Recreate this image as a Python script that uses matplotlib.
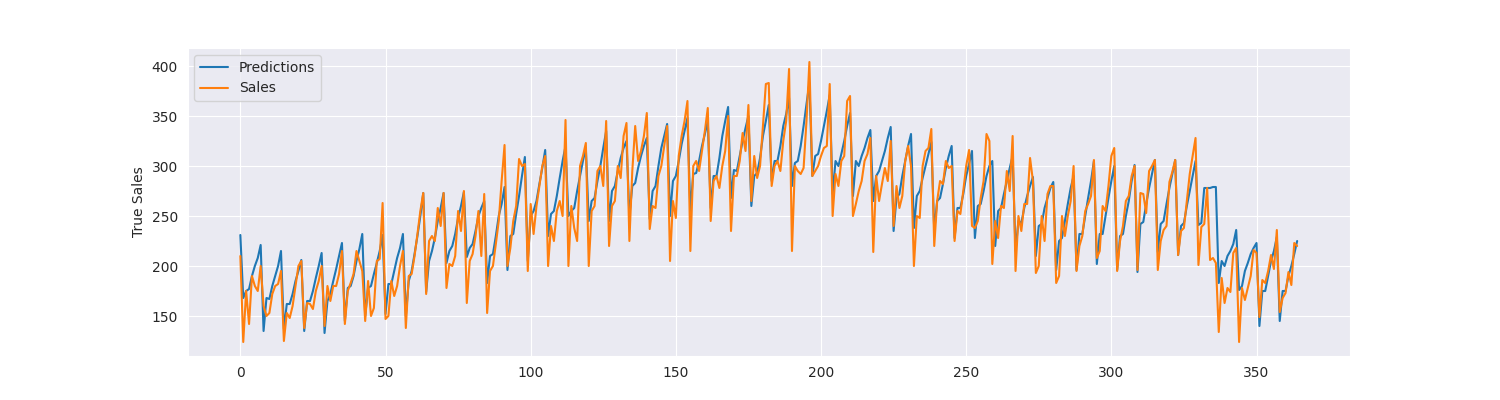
import matplotlib
matplotlib.use("Agg")
import matplotlib.pyplot as plt
import seaborn as sns

predictions = [
231,168,175,177,190,200,208,221,
135,168,167,180,190,200,215,
137,162,162,172,185,195,206,
135,165,165,175,188,200,213,
133,165,172,185,197,210,223,
145,178,180,190,205,217,232,
150,178,180,192,203,215,231,
152,182,182,195,208,218,232,
150,185,195,212,230,250,273,
174,205,215,228,245,258,273,
203,215,220,232,248,260,274,
209,218,222,235,250,258,265,
183,210,212,230,250,262,279,
196,230,232,252,270,290,309,
205,250,255,265,282,298,316,
230,252,255,270,288,305,320,
250,255,258,275,290,305,318,
245,265,268,285,300,318,335,
245,275,280,295,308,318,325,
250,280,283,298,310,320,328,
247,275,280,300,318,330,342,
250,285,290,305,322,335,348,
255,292,293,305,320,332,345,
258,290,290,308,330,345,359,
268,296,295,310,325,338,350,
260,290,293,308,330,345,361,
285,305,305,320,340,352,368,
280,303,305,320,340,362,383,
290,310,312,325,340,355,371,
272,305,300,312,325,340,353,
270,305,300,310,318,328,336,
265,290,295,305,315,328,339,
235,268,272,290,305,320,332,
238,270,275,288,300,312,324,
235,265,268,282,298,310,320,
228,258,258,272,290,302,315,
228,260,262,275,290,300,305,
220,255,258,272,285,298,310,
215,245,243,258,270,280,289,
210,240,242,258,268,278,284,
196,225,228,245,262,278,290,
196,232,232,250,268,285,305,
202,232,232,250,268,285,300,
196,230,232,250,265,285,301,
194,242,244,262,278,292,306,
214,242,245,262,278,292,306,
211,240,243,260,275,290,305,
241,243,278,278,278,279,279,
183,205,200,210,215,222,236,
176,180,195,203,212,218,223,
140,175,175,190,205,215,229,
145,175,175,190,200,212,225,
]

sales = [
210,124,175,142,190,180,175,200,
160,150,153,172,180,182,195,
125,153,148,160,180,200,205,
138,163,162,157,175,185,200,
140,180,165,180,180,192,215,
142,175,183,192,215,205,195,
145,185,150,158,205,207,263,
147,150,185,170,180,200,215,
138,190,192,210,232,255,273,
172,225,230,225,258,240,273,
178,202,200,210,255,235,275,
163,205,212,230,255,210,272,
153,195,200,222,245,285,321,
200,218,245,260,307,300,302,
195,262,232,260,280,300,310,
200,240,225,255,265,250,346,
200,260,238,225,300,310,323,
200,255,260,295,300,280,345,
220,260,265,300,288,330,343,
225,295,340,305,315,330,353,
237,260,258,290,300,320,340,
205,265,248,310,330,345,365,
215,300,305,295,315,335,358,
245,285,290,278,300,315,350,
235,290,290,305,333,315,361,
265,310,288,300,340,382,383,
280,300,305,295,325,345,397,
215,300,295,292,298,345,404,
290,295,300,310,318,320,382,
250,292,280,305,310,365,370,
250,262,275,285,305,312,328,
214,290,265,282,298,285,325,
240,280,258,270,305,320,300,
200,250,248,300,315,318,337,
220,265,285,282,305,298,300,
225,255,252,275,300,316,240,
238,245,268,285,332,325,202,
245,228,260,258,295,275,330,
195,250,235,262,262,308,285,
193,200,250,225,272,280,280,
183,190,250,230,250,265,300,
195,220,230,255,262,270,306,
208,215,260,255,280,310,318,
195,225,240,265,270,290,300,
196,273,272,253,295,300,306,
196,225,236,240,284,294,306,
211,235,238,265,292,310,328,
201,239,242,278,206,208,203,
134,188,163,178,174,213,218,
124,178,166,178,190,216,213,
149,186,183,195,211,197,236,
154,168,173,194,181,223,220,
]

days = list(range(len(predictions)))

sns.set_style("darkgrid")
fig, ax = plt.subplots(figsize=(15, 4), dpi=100)
ax.plot(days, predictions, label="Predictions", color="#1f77b4", linewidth=1.5)
ax.plot(days, sales, label="Sales", color="#ff7f0e", linewidth=1.5)
ax.set_ylabel("True Sales")
ax.set_xticks([0, 50, 100, 150, 200, 250, 300, 350])
ax.set_yticks([150, 200, 250, 300, 350, 400])
ax.legend(loc="upper left")
fig.savefig("out.png")
